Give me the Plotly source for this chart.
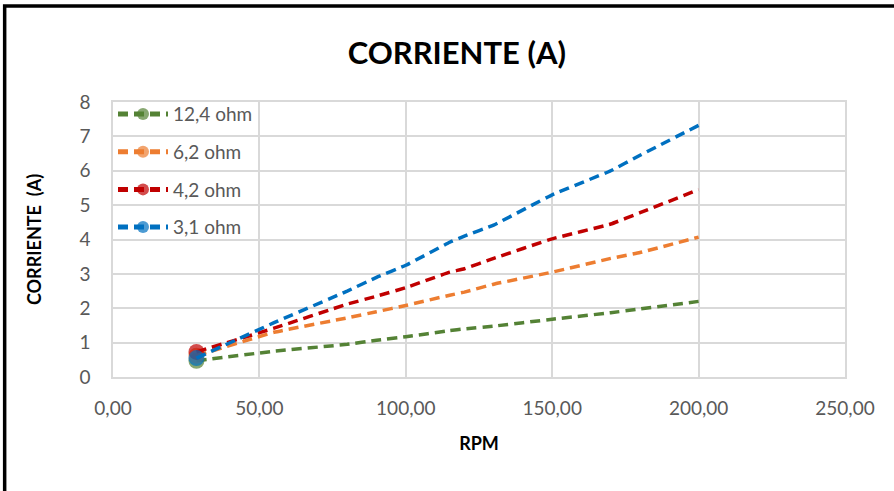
import plotly.graph_objects as go

rpm = [28.5, 55, 80, 90, 100, 115, 120, 130, 150, 170, 180, 200]
i_124 = [0.47, 0.75, 0.95, 1.07, 1.17, 1.35, 1.40, 1.48, 1.68, 1.87, 1.98, 2.20]
i_62 = [0.62, 1.30, 1.72, 1.90, 2.08, 2.38, 2.47, 2.70, 3.05, 3.45, 3.62, 4.07]
i_42 = [0.73, 1.42, 2.12, 2.35, 2.60, 3.05, 3.15, 3.45, 4.02, 4.45, 4.78, 5.45]
i_31 = [0.55, 1.58, 2.50, 2.90, 3.25, 3.92, 4.10, 4.42, 5.30, 6.00, 6.45, 7.32]

series_names = ["12,4 ohm", "6,2 ohm", "4,2 ohm", "3,1 ohm"]
series_vals = [i_124, i_62, i_42, i_31]
colors = ["#548235", "#ED7D31", "#C00000", "#0070C0"]

x_ticks = [0, 50, 100, 150, 200, 250]
y_ticks = [0, 1, 2, 3, 4, 5, 6, 7, 8]

fig = go.Figure()
for name, vals, col in zip(series_names, series_vals, colors):
    sizes = [16] + [0] * (len(vals) - 1)
    fig.add_trace(go.Scatter(
        x=rpm, y=vals, name=name, legendgroup=name, mode="lines+markers",
        line=dict(color=col, width=3.5, dash="10px,6px", shape="spline", smoothing=0.3),
        marker=dict(color=col, size=sizes, line=dict(width=0)),
    ))

font_main = "Lato, Open Sans, sans-serif"

fig.update_layout(
    width=894, height=491,
    margin=dict(l=113, r=49, t=102, b=114),
    paper_bgcolor="white", plot_bgcolor="white",
    separators=",.",
    title=dict(text="<b>CORRIENTE (A)</b>", x=0.511, xanchor="center",
               y=0.892, yanchor="middle",
               font=dict(family=font_main, size=31, color="black")),
    font=dict(family=font_main, color="#595959"),
    xaxis=dict(range=[0, 250], tickvals=x_ticks, tickformat=".2f",
               showgrid=True, gridcolor="#d9d9d9", gridwidth=1.5,
               showline=True, linecolor="#d9d9d9", linewidth=1.5, mirror=True,
               zeroline=False, ticks="", ticklabelstandoff=13,
               tickfont=dict(size=19, color="#595959"),
               title=dict(text="<b>RPM</b>", standoff=20,
                          font=dict(size=18, color="black"))),
    yaxis=dict(range=[0, 8], tickvals=y_ticks,
               showgrid=True, gridcolor="#d9d9d9", gridwidth=1.5,
               showline=True, linecolor="#d9d9d9", linewidth=1.5, mirror=True,
               zeroline=False, ticks="", ticklabelstandoff=17,
               tickfont=dict(size=19, color="#595959"),
               title=dict(text="<b>CORRIENTE  (A)</b>", standoff=33,
                          font=dict(size=18, color="black"))),
    legend=dict(x=0.0, y=1.025, xanchor="left", yanchor="top",
                bgcolor="rgba(0,0,0,0)", itemsizing="constant",
                tracegroupgap=10, itemwidth=50,
                font=dict(size=19, color="#595959"), traceorder="grouped"),
    shapes=[dict(type="rect", xref="paper", yref="paper",
                 x0=-0.148, x1=1.3, y0=-0.6, y1=1.349,
                 line=dict(color="black", width=3.5), layer="above")],
)

fig.write_html("out.html", post_script="document.body.style.margin='0px';",
               config={"displayModeBar": False})
